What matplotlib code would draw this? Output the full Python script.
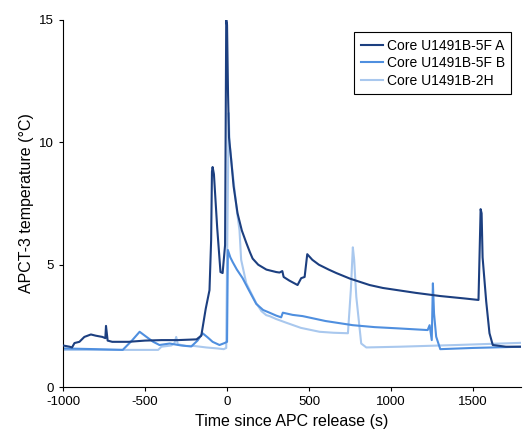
import matplotlib
matplotlib.use("Agg")
import matplotlib.pyplot as plt

plt.rcParams['font.family'] = ['Liberation Sans', 'DejaVu Sans']
plt.rcParams['axes.unicode_minus'] = False

# Core U1491B-5F A
time_a = [-1000, -960, -945, -930, -900, -870, -830, -800, -760, -742, -738, -728, -700,
          -600, -500, -400, -300, -186, -157, -130, -107, -97, -92, -88, -80, -60,
          -40, -27, -12, -5, 0, 6, 12, 25, 40, 64, 90, 117, 140, 156, 190, 240, 300,
          320, 337, 345, 380, 430, 452, 473, 489, 520, 560, 620, 666, 750, 869, 950,
          1040, 1150, 1300, 1450, 1533, 1546, 1552, 1558, 1580, 1600, 1620, 1700, 1800]
temp_a = [1.7, 1.65, 1.62, 1.8, 1.85, 2.05, 2.15, 2.1, 2.05, 2.0, 2.5, 1.9, 1.85,
          1.85, 1.9, 1.92, 1.92, 1.95, 2.1, 3.2, 3.96, 6.0, 8.8, 8.99, 8.7, 6.5,
          4.7, 4.66, 5.8, 15.0, 14.8, 12.0, 10.2, 9.3, 8.2, 7.1, 6.4, 5.9, 5.5, 5.25, 5.0, 4.8, 4.7,
          4.68, 4.74, 4.5, 4.35, 4.17, 4.45, 4.5, 5.43, 5.2, 5.0, 4.8, 4.66, 4.43, 4.17, 4.05,
          3.96, 3.85, 3.72, 3.62, 3.56, 7.27, 7.1, 5.3, 3.5, 2.2, 1.72, 1.65, 1.65]

# Core U1491B-5F B
time_b = [-1000, -800, -636, -580, -533, -493, -450, -412, -350, -279, -218, -180, -149,
          -118, -88, -46, -15, 0, 5, 20, 35, 60, 95, 130, 178, 220, 259, 300, 330, 340,
          400, 461, 600, 766, 900, 1040, 1223, 1235, 1248, 1255, 1262, 1275, 1300, 1500, 1800]
temp_b = [1.58, 1.55, 1.52, 1.9, 2.26, 2.06, 1.85, 1.72, 1.78, 1.7, 1.66, 1.9, 2.2,
          2.03, 1.85, 1.72, 1.8, 1.85, 5.6, 5.3, 5.1, 4.8, 4.45, 4.0, 3.4, 3.15, 3.04, 2.92, 2.85, 3.04,
          2.95, 2.9, 2.7, 2.53, 2.45, 2.4, 2.33, 2.53, 1.92, 4.24, 3.0, 2.06, 1.55, 1.6, 1.65]

# Core U1491B-2H
time_c = [-1000, -700, -420, -400, -340, -320, -310, -300, -250, -200, -127, -60, -20,
          -5, 0, 10, 15, 30, 46, 60, 76, 86, 117, 150, 178, 210, 239, 259, 300, 361, 450,
          564, 650, 737, 755, 767, 775, 788, 818, 849, 1052, 1400, 1800]
temp_c = [1.52, 1.52, 1.52, 1.65, 1.7, 1.8, 2.05, 1.75, 1.68, 1.68, 1.62, 1.58, 1.55,
          1.6, 5.0, 11.2, 10.0, 9.0, 8.05, 7.2, 6.4, 5.2, 4.25, 3.8, 3.43, 3.1, 2.94, 2.9, 2.78,
          2.63, 2.42, 2.26, 2.22, 2.2, 4.0, 5.71, 5.2, 3.69, 1.78, 1.62, 1.65, 1.72, 1.81]

labels = ['Core U1491B-5F A', 'Core U1491B-5F B', 'Core U1491B-2H']
colors = ['#1c3f80', '#4f8fdf', '#a9c8ee']

fig = plt.figure(figsize=(5.23, 4.33), dpi=100)
ax = fig.add_axes([0.1205, 0.106, 0.875, 0.848])

ax.plot(time_a, temp_a, color=colors[0], lw=1.5, label=labels[0], zorder=3)
ax.plot(time_b, temp_b, color=colors[1], lw=1.5, label=labels[1], zorder=2)
ax.plot(time_c, temp_c, color=colors[2], lw=1.5, label=labels[2], zorder=1)

ax.set_xlim(-1000, 1790)
ax.set_ylim(0, 15)
ax.set_xticks([-1000, -500, 0, 500, 1000, 1500])
ax.set_yticks([0, 5, 10, 15])
ax.spines['top'].set_visible(False)
ax.spines['right'].set_visible(False)
ax.tick_params(labelsize=9.5, length=3, width=0.8)

ax.set_xlabel('Time since APC release (s)', fontsize=11.5)
ax.set_ylabel('APCT-3 temperature (°C)', fontsize=11.5)

leg = ax.legend(loc='upper right', bbox_to_anchor=(0.995, 0.985), fontsize=10,
                fancybox=False, edgecolor='black', framealpha=1,
                handlelength=1.6, handletextpad=0.3, borderpad=0.45,
                labelspacing=0.25)
leg.get_frame().set_linewidth(0.8)

fig.savefig('out.png', dpi=100)
